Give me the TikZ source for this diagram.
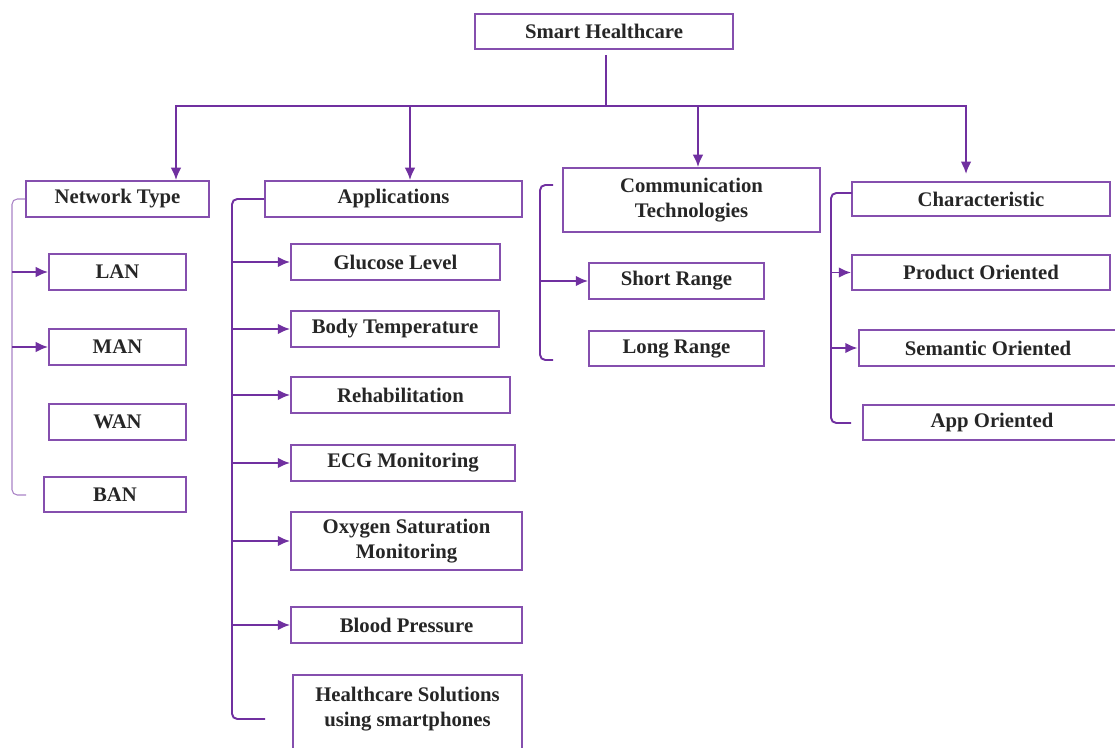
\documentclass[tikz,border=0pt]{standalone}
\usepackage{fontspec}
\setmainfont{Liberation Serif}
\usepackage{tikz}
\usetikzlibrary{arrows.meta}
\definecolor{hcpurple}{HTML}{7030A0}
\definecolor{hctext}{HTML}{262626}
\tikzset{
  box/.style={draw=hcpurple!85, line width=1.1pt, text=hctext, align=center,
    font=\bfseries\fontsize{11.8}{14}\selectfont, minimum height=0.72cm, inner sep=2pt},
  line/.style={draw=hcpurple, line width=1.1pt},
  arr/.style={line, -{Latex[length=7pt,width=6pt]}},
  bracket/.style={line, rounded corners=3pt},
  thinbracket/.style={draw=hcpurple!60, line width=0.6pt, rounded corners=3pt},
}

\begin{document}
\begin{tikzpicture}[x=0.02cm, y=-0.02cm]
            \clip (0,0) rectangle (1115,747);
            % top
            \node[box, minimum width=5.16cm, minimum height=0.70cm] (root) at (604,31.5) {Smart Healthcare};
            \node[box, minimum width=3.66cm] (nettype) at (117.5,199) {Network Type};
            \node[box, minimum width=5.14cm] (apps) at (393.5,199) {Applications};
            \node[box, minimum width=5.14cm, minimum height=1.28cm] (comm) at (691.5,200) {Communication\\Technologies};
            \node[box, minimum width=5.16cm, minimum height=0.68cm] (charac) at (981,199) {Characteristic};
            % network type
            \node[box, minimum width=2.74cm] (lan) at (117.5,272) {LAN};
            \node[box, minimum width=2.74cm] (man) at (117.5,347) {MAN};
            \node[box, minimum width=2.74cm] (wan) at (117.5,422) {WAN};
            \node[box, minimum width=2.84cm, minimum height=0.70cm] (ban) at (115,494.5) {BAN};
            % applications
            \node[box, minimum width=4.18cm] (glucose) at (395.5,262) {Glucose Level};
            \node[box, minimum width=4.16cm] (bodytemp) at (395,329) {Body Temperature};
            \node[box, minimum width=4.38cm] (rehab) at (400.5,395) {Rehabilitation};
            \node[box, minimum width=4.48cm] (ecg) at (403,463) {ECG Monitoring};
            \node[box, minimum width=4.62cm, minimum height=1.16cm] (oxygen) at (406.5,541) {Oxygen Saturation\\Monitoring};
            \node[box, minimum width=4.62cm] (bp) at (406.5,625) {Blood Pressure};
            \node[box, minimum width=4.58cm, anchor=north, inner ysep=7pt, text depth=1.3cm] (phone) at (407.5,674) {Healthcare Solutions\\using smartphones};
            % communication
            \node[box, minimum width=3.5cm] (short) at (676.5,281) {Short Range};
            \node[box, minimum width=3.5cm, minimum height=0.70cm] (long) at (676.5,348.5) {Long Range};
            % characteristic
            \node[box, minimum width=5.16cm, minimum height=0.70cm] (product) at (981,272.5) {Product Oriented};
            \node[box, minimum width=5.18cm] (semantic) at (988,348) {Semantic Oriented};
            \node[box, minimum width=5.16cm, minimum height=0.70cm] (apporiented) at (992,422.5) {App Oriented};

            % tree
            \coordinate (hub) at (606,106);
            \coordinate (dropnet) at (176,106);
            \coordinate (dropapps) at (410,106);
            \coordinate (dropcomm) at (698,106);
            \coordinate (dropchar) at (966,106);
            \draw[line, shorten <=3pt] (root.south -| hub) -- (hub);
            \draw[line, line cap=rect] (dropnet) -- (dropchar);
            \draw[arr] (dropnet) -- (dropnet |- nettype.north);
            \draw[arr] (dropapps) -- (dropapps |- apps.north);
            \draw[arr] (dropcomm) -- (dropcomm |- comm.north);
            \draw[arr, shorten >=4pt] (dropchar) -- (dropchar |- charac.north);

            % network type bracket
            \coordinate (netbar) at (12,0);
            \coordinate (netend) at (26,495);
            \draw[thinbracket] (nettype.west) -| (netend -| netbar) -- (netend);
            \draw[arr] (lan.west -| netbar) -- (lan.west);
            \draw[arr] (man.west -| netbar) -- (man.west);

            % applications bracket
            \coordinate (appsbar) at (232,0);
            \coordinate (appsend) at (265,719);
            \draw[bracket] (apps.west) -| (appsend -| appsbar) -- (appsend);
            \draw[arr] (glucose.west -| appsbar) -- (glucose.west);
            \draw[arr] (bodytemp.west -| appsbar) -- (bodytemp.west);
            \draw[arr] (rehab.west -| appsbar) -- (rehab.west);
            \draw[arr] (ecg.west -| appsbar) -- (ecg.west);
            \draw[arr] (oxygen.west -| appsbar) -- (oxygen.west);
            \draw[arr] (bp.west -| appsbar) -- (bp.west);

            % communication bracket
            \coordinate (commbar) at (540,0);
            \coordinate (commtop) at (553,185);
            \coordinate (commend) at (553,360);
            \draw[bracket] (commtop) -| (commend -| commbar) -- (commend);
            \draw[arr] (short.west -| commbar) -- (short.west);

            % characteristic bracket
            \coordinate (charbar) at (831,0);
            \coordinate (chartop) at (852,193);
            \coordinate (charend) at (851,423);
            \draw[bracket] (chartop) -| (charend -| charbar) -- (charend);
            \draw[arr] (product.west -| charbar) -- (product.west);
            \draw[arr] (semantic.west -| charbar) -- (semantic.west);
        \end{tikzpicture}
\end{document}
